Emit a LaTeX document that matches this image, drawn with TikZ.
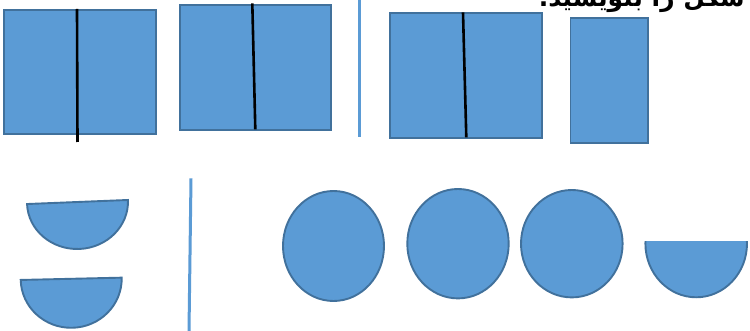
\documentclass[tikz,border=0pt]{standalone}
\usepackage{fontspec}
\newfontfamily\arabicfont[Script=Arabic]{DejaVu Sans}
\TeXXeTstate=1
\definecolor{shapefill}{HTML}{5B9BD5}
\definecolor{shapeedge}{HTML}{41719C}
\begin{document}
\begin{tikzpicture}[x=1pt,y=-1pt,
  box/.style={fill=shapefill,draw=shapeedge,line width=1.4pt},
  round/.style={fill=shapefill,draw=shapeedge,line width=1.9pt},
  cut/.style={draw=black,line width=2.6pt},
  sep/.style={draw=shapefill,line width=3pt}]
\useasboundingbox (0,0) rectangle (750,331);
\clip (0,0) rectangle (750,331);
\fill[white] (0,0) rectangle (750,331);
% heading (cut off at the top)
\node[anchor=base east,inner sep=0pt,font=\arabicfont\bfseries\fontsize{25}{30}\selectfont] (head) at (745,7) {\beginR شکل را بنویسید.\endR};
% top row
\draw[box] (4,10) rectangle (156,134);
\draw[cut] (77,9) -- (77.5,142);
\draw[box] (180,5) rectangle (331,130);
\draw[cut] (252.3,3.3) -- (255.3,129.3);
\draw[sep] (359.3,0) -- (359.3,137);
\draw[box] (390,13) rectangle (542,138);
\draw[cut] (463,12.3) -- (466.3,137.3);
\draw[box] (570.5,18) rectangle (648,143);
% bottom row
\begin{scope}[shift={(77.5,202)},rotate=2.3]
  \draw[round] (-50.5,0) arc[start angle=180,end angle=0,x radius=50.5,y radius=47] -- cycle;
\end{scope}
\begin{scope}[shift={(71.2,278.8)},rotate=1.3]
  \draw[round] (-50.5,0) arc[start angle=180,end angle=0,x radius=50.5,y radius=49] -- cycle;
\end{scope}
\draw[sep] (191,178.3) -- (189,331);
\draw[round] (333.5,246) ellipse[x radius=50.5,y radius=55];
\draw[round] (458,243.7) ellipse[x radius=50.7,y radius=54.7];
\draw[round] (571.8,243.7) ellipse[x radius=50.8,y radius=53.7];
\draw[round] (696.2,243.5) ellipse[x radius=50.8,y radius=53.8];
\fill[white] (642,181) rectangle (752,240.7);
\end{tikzpicture}
\end{document}
